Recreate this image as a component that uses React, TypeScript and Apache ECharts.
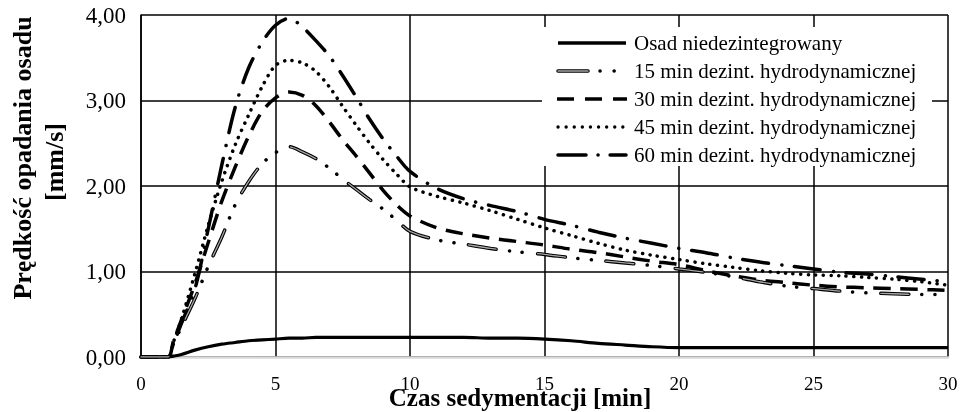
import React, { useEffect, useRef } from "react";
import * as echarts from "echarts";

const times = [0, 1, 1.2, 1.5, 2, 2.5, 3, 3.5, 4, 4.5, 5, 5.5, 6, 6.5, 7, 7.5, 8, 8.5, 9, 9.5, 10, 11, 12, 13, 14, 15, 16, 17, 18, 19, 20, 21, 22, 23, 24, 25, 26, 27, 28, 29, 30];

const undisintegrated = [0, 0, 0.01, 0.03, 0.08, 0.12, 0.15, 0.17, 0.19, 0.2, 0.21, 0.22, 0.22, 0.23, 0.23, 0.23, 0.23, 0.23, 0.23, 0.23, 0.23, 0.23, 0.23, 0.22, 0.22, 0.21, 0.19, 0.16, 0.14, 0.12, 0.11, 0.11, 0.11, 0.11, 0.11, 0.11, 0.11, 0.11, 0.11, 0.11, 0.11];
const dis15 = [0, 0, 0.15, 0.35, 0.68, 1.06, 1.4, 1.78, 2.05, 2.26, 2.39, 2.46, 2.4, 2.32, 2.21, 2.08, 1.96, 1.84, 1.73, 1.6, 1.47, 1.37, 1.32, 1.27, 1.23, 1.2, 1.16, 1.13, 1.1, 1.07, 1.03, 0.99, 0.94, 0.88, 0.83, 0.8, 0.77, 0.75, 0.74, 0.73, 0.73];
const dis30 = [0, 0, 0.18, 0.43, 0.85, 1.34, 1.82, 2.22, 2.58, 2.87, 3.03, 3.1, 3.06, 2.94, 2.75, 2.54, 2.35, 2.15, 1.95, 1.78, 1.65, 1.51, 1.44, 1.39, 1.35, 1.31, 1.26, 1.22, 1.17, 1.12, 1.08, 1.01, 0.95, 0.9, 0.87, 0.84, 0.82, 0.81, 0.8, 0.79, 0.78];
const dis45 = [0, 0, 0.17, 0.44, 0.97, 1.54, 2.05, 2.48, 2.83, 3.16, 3.41, 3.47, 3.44, 3.34, 3.16, 2.93, 2.71, 2.5, 2.31, 2.14, 1.99, 1.88, 1.8, 1.71, 1.61, 1.51, 1.42, 1.33, 1.25, 1.19, 1.14, 1.09, 1.05, 1.01, 0.98, 0.96, 0.95, 0.93, 0.91, 0.88, 0.84];
const dis60 = [0, 0, 0.15, 0.39, 0.79, 1.5, 2.24, 2.92, 3.38, 3.68, 3.88, 3.96, 3.86, 3.7, 3.52, 3.29, 3.04, 2.78, 2.55, 2.35, 2.17, 1.97, 1.85, 1.77, 1.7, 1.61, 1.54, 1.46, 1.39, 1.33, 1.27, 1.22, 1.16, 1.11, 1.07, 1.03, 0.99, 0.97, 0.94, 0.91, 0.88];

const seriesNames = [
  "Osad niedezintegrowany",
  "15 min dezint. hydrodynamicznej",
  "30 min dezint. hydrodynamicznej",
  "45 min dezint. hydrodynamicznej",
  "60 min dezint. hydrodynamicznej",
];

const xTitle = "Czas sedymentacji [min]";
const yTitleLine1 = "Prędkość opadania osadu";
const yTitleLine2 = "[mm/s]";

const FONT = "'Liberation Serif', 'Times New Roman', serif";

const pairs = (ys: number[]) => times.map((t, i) => [t, ys[i]]);

export default function App() {
  const ref = useRef<HTMLDivElement>(null);
  useEffect(() => {
    if (!ref.current) return;
    const chart = echarts.init(ref.current, undefined, { renderer: "svg" });

    const rows = [43, 71, 99, 127, 155];
    const lx1 = 558;
    const lx2 = 626;
    const legendGraphics: any[] = [
      {
        type: "rect",
        shape: { x: 542, y: 27, width: 390, height: 139 },
        style: { fill: "#fff" },
        z: 100,
      },
      {
        type: "line",
        shape: { x1: lx1, y1: rows[0], x2: lx2, y2: rows[0] },
        style: { stroke: "#000", lineWidth: 3.5 },
        z: 101,
      },
      {
        type: "line",
        shape: { x1: lx1, y1: rows[1], x2: lx2, y2: rows[1] },
        style: { stroke: "#000", lineWidth: 3.5, lineDash: [30, 12, 0.1, 14, 0.1, 30], lineCap: "round" },
        z: 101,
      },
      {
        type: "line",
        shape: { x1: lx1, y1: rows[1], x2: lx1 + 30, y2: rows[1] },
        style: { stroke: "#a6a6a6", lineWidth: 1.3, lineCap: "round" },
        z: 102,
      },
      {
        type: "line",
        shape: { x1: lx1 - 1, y1: rows[2], x2: lx2 + 1, y2: rows[2] },
        style: { stroke: "#000", lineWidth: 3.5, lineDash: [17, 11] },
        z: 101,
      },
      {
        type: "line",
        shape: { x1: lx1, y1: rows[3], x2: lx2, y2: rows[3] },
        style: { stroke: "#000", lineWidth: 3.3, lineDash: [0.1, 8], lineCap: "round" },
        z: 101,
      },
      {
        type: "line",
        shape: { x1: lx1, y1: rows[4], x2: lx2, y2: rows[4] },
        style: { stroke: "#000", lineWidth: 3.5, lineDash: [28, 12, 0.1, 12], lineCap: "round" },
        z: 101,
      },
      ...seriesNames.map((n, i) => ({
        type: "text",
        x: 634,
        y: rows[i],
        style: { text: n, font: `21px ${FONT}`, fill: "#000", textAlign: "left", textVerticalAlign: "middle" },
        z: 101,
      })),
      {
        type: "text",
        x: 520,
        y: 397,
        style: { text: xTitle, font: `bold 25px ${FONT}`, fill: "#000", textAlign: "center", textVerticalAlign: "middle" },
        z: 101,
      },
      {
        type: "text",
        x: 22,
        y: 158,
        rotation: Math.PI / 2,
        style: { text: yTitleLine1, font: `bold 26px ${FONT}`, fill: "#000", textAlign: "center", textVerticalAlign: "middle" },
        z: 101,
      },
      {
        type: "text",
        x: 54,
        y: 162,
        rotation: Math.PI / 2,
        style: { text: yTitleLine2, font: `bold 26px ${FONT}`, fill: "#000", textAlign: "center", textVerticalAlign: "middle" },
        z: 101,
      },
    ];

    const baseLine = (data: number[][], lineStyle: any, z = 2) => ({
      type: "line",
      data,
      showSymbol: false,
      symbol: "none",
      smooth: 0.3,
      silent: true,
      z,
      lineStyle,
    });

    chart.setOption({
      animation: false,
      textStyle: { fontFamily: FONT },
      grid: { left: 141, right: 18, top: 15, bottom: 55, containLabel: false },
      xAxis: {
        type: "value",
        min: 0,
        max: 30,
        interval: 5,
        axisLine: { show: true, onZero: false, lineStyle: { color: "#d9d9d9", width: 2.5 } },
        axisTick: { show: false },
        splitLine: { show: true, lineStyle: { color: "#000", width: 1.5 } },
        axisLabel: { color: "#000", fontSize: 19, fontFamily: FONT, margin: 17 },
      },
      yAxis: {
        type: "value",
        min: 0,
        max: 4,
        interval: 1,
        axisLine: { show: true, lineStyle: { color: "#000", width: 1.5 } },
        axisTick: { show: false },
        splitLine: { show: true, lineStyle: { color: "#000", width: 1.5 } },
        axisLabel: {
          color: "#000",
          fontSize: 23,
          fontFamily: FONT,
          margin: 15,
          formatter: (v: number) => v.toFixed(2).replace(".", ","),
        },
      },
      graphic: legendGraphics,
      series: [
        { name: seriesNames[0], ...baseLine(pairs(undisintegrated), { color: "#000", width: 3.2 }) },
        {
          name: seriesNames[1],
          ...baseLine(pairs(dis15), { color: "#000", width: 3.5, type: [28, 13, 0.1, 13, 0.1, 15], cap: "round" }),
        },
        {
          name: seriesNames[1] + " (inner)",
          ...baseLine(pairs(dis15), { color: "#a6a6a6", width: 1.3, type: [28, 41.2], cap: "round" }, 3),
        },
        { name: seriesNames[2], ...baseLine(pairs(dis30), { color: "#000", width: 3.5, type: [17, 10] }) },
        {
          name: seriesNames[3],
          ...baseLine(pairs(dis45), { color: "#000", width: 3.5, type: [0.1, 7.5], cap: "round" }),
        },
        {
          name: seriesNames[4],
          ...baseLine(pairs(dis60), { color: "#000", width: 3.5, type: [26, 13, 0.1, 13], cap: "round" }),
        },
      ],
    });
    return () => chart.dispose();
  }, []);
  return <div ref={ref} style={{ position: "fixed", left: 0, top: 0, width: 966, height: 412 }} />;
}
